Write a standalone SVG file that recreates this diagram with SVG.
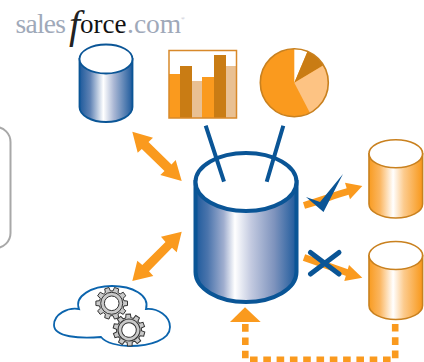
<svg xmlns="http://www.w3.org/2000/svg" width="424" height="362" viewBox="0 0 424 362">
<style>
.logo{font-family:"Liberation Serif","Times New Roman",serif}
.gr{fill:#9fa9b9;font-size:27.5px}
.bk{fill:#111;font-size:27px}
.ar{fill:#fa9a1e}
.bl{fill:none;stroke:#0a5596;stroke-linecap:butt}
.dash{fill:none;stroke:#fa9a1e;stroke-width:6.6;stroke-dasharray:7.6 5.7}
.o{stroke:#c9811f;stroke-width:1.6}
.gear{fill:#c9c9c9;stroke:#333;stroke-width:1}
.ring{fill:none;stroke:#333;stroke-width:1}
</style>
<defs>
<linearGradient id="bg" x1="0" x2="1" y1="0" y2="0">
<stop offset="0" stop-color="#1d5a9c"/><stop offset=".12" stop-color="#4a74ac"/><stop offset=".28" stop-color="#a0aecf"/><stop offset=".39" stop-color="#fff"/><stop offset=".55" stop-color="#c3cae0"/><stop offset=".78" stop-color="#7e93bd"/><stop offset="1" stop-color="#1d5a9c"/>
</linearGradient>
<linearGradient id="bs" x1="0" x2="1" y1="0" y2="0">
<stop offset="0" stop-color="#1d5a9c"/><stop offset=".2" stop-color="#5f82b4"/><stop offset=".45" stop-color="#fff"/><stop offset=".65" stop-color="#aab7d4"/><stop offset="1" stop-color="#1d5a9c"/>
</linearGradient>
<linearGradient id="og" x1="0" x2="1" y1="0" y2="0">
<stop offset="0" stop-color="#f99c22"/><stop offset=".2" stop-color="#fbb55e"/><stop offset=".45" stop-color="#fff"/><stop offset=".65" stop-color="#fccb8e"/><stop offset="1" stop-color="#f8981a"/>
</linearGradient>
<polygon id="g" points="15.8,-2.2 15.8,2.2 12.2,2.6 11.4,5.1 14.1,7.5 11.5,11.1 8.4,9.3 6.3,10.8 7,14.4 2.8,15.8 1.3,12.4 -1.3,12.4 -2.8,15.8 -7,14.4 -6.3,10.8 -8.4,9.3 -11.5,11.1 -14.1,7.5 -11.4,5.1 -12.2,2.6 -15.8,2.2 -15.8,-2.2 -12.2,-2.6 -11.4,-5.1 -14.1,-7.5 -11.5,-11.1 -8.4,-9.3 -6.3,-10.8 -7,-14.4 -2.8,-15.8 -1.3,-12.4 1.3,-12.4 2.8,-15.8 7,-14.4 6.3,-10.8 8.4,-9.3 11.5,-11.1 14.1,-7.5 11.4,-5.1 12.2,-2.6"/>
</defs>
<rect width="424" height="362" fill="#fff"/>
<rect id="panel" x="-40" y="127" width="50.5" height="121" rx="15" fill="#fff" stroke="#a8a8a8" stroke-width="2"/>
<g id="logo"><text class="logo" y="33"><tspan class="gr" x="15.5" letter-spacing="-.75">sales</tspan><tspan x="69" y="38" font-size="40" font-style="italic" fill="#222">f</tspan><tspan class="bk" x="80" y="33">orce</tspan><tspan class="gr" x="127">.com</tspan><tspan class="gr" x="181" y="20" style="font-size:5px">®</tspan></text></g>
<g id="db-small">
<path d="M79.5 59V107A26.5 15 0 0 0 132.5 107V59Z" fill="url(#bs)" stroke="#0a5596" stroke-width="1.8"/>
<ellipse cx="106" cy="59" rx="26.5" ry="14.5" fill="#fff" stroke="#0a5596" stroke-width="1.8"/>
</g>
<g id="bar-chart">
<rect x="169" y="50.5" width="67.5" height="67.5" fill="#fff"/>
<rect x="169" y="74" width="11" height="44" fill="#fa9a1e"/>
<rect x="180" y="66" width="12" height="52" fill="#c97c14"/>
<rect x="192" y="81" width="10" height="37" fill="#e9c092"/>
<rect x="202" y="77" width="12" height="41" fill="#fa9a1e"/>
<rect x="214" y="55" width="12" height="63" fill="#c97c14"/>
<rect x="226" y="66" width="10.5" height="52" fill="#e9c092"/>
<rect x="169" y="50.5" width="67.5" height="67.5" fill="none" stroke="#d8892a" stroke-width="1.5"/>
</g>
<g id="pie-chart">
<circle cx="294.3" cy="82.7" r="34" fill="#fa9a1e"/>
<path d="M294.3 82.7V48.7A34 34 0 0 1 307.5 51.4Z" fill="#fff"/>
<path d="M294.3 82.7L307.5 51.4A34 34 0 0 1 323.5 65.3Z" fill="#c97c14"/>
<path d="M294.3 82.7L323.5 65.3A34 34 0 0 1 310 113Z" fill="#fdc383"/>
<circle cx="294.3" cy="82.7" r="34" fill="none" class="o"/>
</g>
<g id="db-main">
<path d="M195.5 182V272A50.5 30 0 0 0 296.5 272V182Z" fill="url(#bg)" stroke="#0a5596" stroke-width="4"/>
<ellipse cx="246" cy="182" rx="50.5" ry="29" fill="#fff" stroke="#0a5596" stroke-width="4"/>
</g>
<g id="db-target-1">
<path d="M369 153.7V204A26.8 14 0 0 0 422.6 204V153.7Z" fill="url(#og)" class="o"/>
<ellipse cx="395.8" cy="153.7" rx="26.8" ry="14" fill="#fff" class="o"/>
</g>
<g id="db-target-2">
<path d="M369 255.5V305.5A26.8 14 0 0 0 422.6 305.5V255.5Z" fill="url(#og)" class="o"/>
<ellipse cx="395.8" cy="255.5" rx="26.8" ry="14" fill="#fff" class="o"/>
</g>
<g id="cloud">
<path d="M79 309C74 296 92 286 112 286C132 286 150 295 146 309C158 308 170 316 170 327C170 340 150 346 130 346C118 346 106 343 101 337C80 339 54 337 54 325C54 314 68 307 79 309Z" fill="#fff" stroke="#0b64ad" stroke-width="1.8"/>
<g transform="translate(111.7 303.3)"><use href="#g" class="gear"/><circle r="11" class="ring"/><circle r="7.3" fill="#fff" stroke="#333"/></g>
<g transform="translate(129 330) rotate(15)"><use href="#g" class="gear"/><circle r="11" class="ring"/><circle r="7.3" fill="#fff" stroke="#333"/></g>
</g>
<g id="connectors">
<polygon class="ar" points="132.3,131.7 153,137.7 148.500,142 171.500,164.500 175.7,160 181.7,181 160.3,175 164.500,171 141.800,149 137.7,152.7"/>
<polygon class="ar" points="181.7,231.700 176.700,252.300 172,247.800 149,271.200 153.300,276 132.300,281 137.300,260.700 142.300,265 165.500,242 161,236.700"/>
<path d="M205.700 125.700L224 181.700M283.300 125.700L266.700 181.700" class="bl" stroke-width="4"/>
<path d="M304 205.500C322 200 335 195 351 190.500" fill="none" stroke="#fa9a1e" stroke-width="7"/>
<polygon class="ar" points="345,182.700 362.300,186 350,199.300"/>
<path d="M304 257.500L351 274" fill="none" stroke="#fa9a1e" stroke-width="7"/>
<polygon class="ar" points="349,265 362.300,277.700 344.300,281"/>
<path d="M395.200 324V359.500" class="dash"/>
<path d="M250 359.800H391" class="dash"/>
<path d="M245.300 358.300V324" class="dash"/>
<polygon class="ar" points="245,307.300 260.700,322 230,322"/>
</g>
<g id="check"><polygon points="306,197 320,202 343,174 323.500,212" fill="#0a5596"/></g>
<g id="cross"><path d="M310.500 252.500L339 274M339 252.500L310.500 274" fill="none" stroke="#0a5596" stroke-width="5" stroke-linecap="round"/></g>
</svg>
